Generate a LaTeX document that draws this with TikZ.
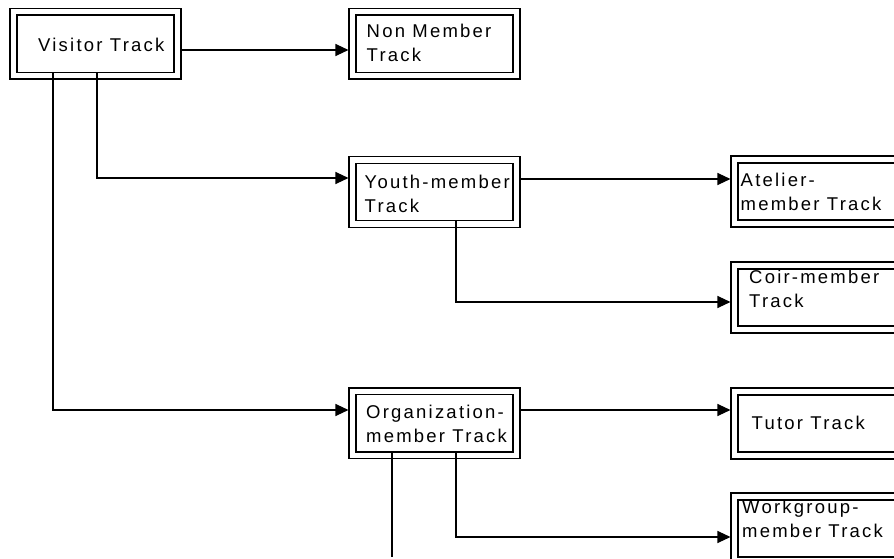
\documentclass[tikz,border=0pt]{standalone}
\usepackage{fontspec}
\setmainfont{Liberation Sans}[LetterSpace=12]
\usetikzlibrary{arrows.meta}
\begin{document}
\begin{tikzpicture}[x=1pt,y=-1pt,
  track/.style={draw=black, line width=1.3pt, double=white, double distance=5.5pt,
    minimum width=164pt, minimum height=64pt, inner sep=0pt, outer sep=4.05pt},
  caption/.style={anchor=base west, inner sep=0pt, align=left,
    font=\fontsize{18.5}{24}\selectfont},
  link/.style={line width=1.2pt},
  feed/.style={link, -{Triangle[length=13pt,width=12pt]}}]
\useasboundingbox (0,0) rectangle (894,559);

% track boxes (double frame)
\node[track] (vt) at (95.5,43.75) {};
\node[track] (nm) at (434.5,43.75) {};
\node[track] (yt) at (434.5,191.75) {};
\node[track] (ot) at (434.5,423.25) {};
\node[track] (at) at (816.5,191.5) {};
\node[track] (ct) at (816.5,297.5) {};
\node[track] (tt) at (816.5,423.5) {};
\node[track] (wt) at (816.5,528.5) {};

% box captions (anchored at the baseline of the last line)
\node[caption] (vtl) at (38,52) {Visitor Track};
\node[caption] (nml) at (366.5,62) {Non Member\\Track};
\node[caption] (ytl) at (364.5,212) {Youth-member\\Track};
\node[caption] (otl) at (366,442) {Organization-\\member Track};
\node[caption] (atl) at (740.5,210) {Atelier-\\member Track};
\node[caption] (ctl) at (749,307) {Coir-member\\Track};
\node[caption] (ttl) at (751.5,429) {Tutor Track};
\node[caption] (wtl) at (742,537) {Workgroup-\\member Track};

% connectors
\draw[feed] (vt.east |- 0,50) -- (nm.west |- 0,50);
\draw[feed] ([xshift=1.5pt,yshift=7.5pt]vt.south) |- (yt.west |- 0,178);
\draw[feed] ([xshift=-42.5pt,yshift=7.5pt]vt.south) |- (ot.west |- 0,410);
\draw[feed] (yt.east |- 0,179) -- (at.west |- 0,179);
\draw[feed] ([xshift=21.5pt,yshift=7.5pt]yt.south) |- (ct.west |- 0,302);
\draw[feed] (ot.east |- 0,410) -- (tt.west |- 0,410);
\draw[feed] ([xshift=21.5pt,yshift=7.5pt]ot.south) |- (wt.west |- 0,537);
\coordinate (oe) at (392,557);
\draw[link] ([xshift=-42.5pt,yshift=7.5pt]ot.south) -- (oe);
\end{tikzpicture}
\end{document}
